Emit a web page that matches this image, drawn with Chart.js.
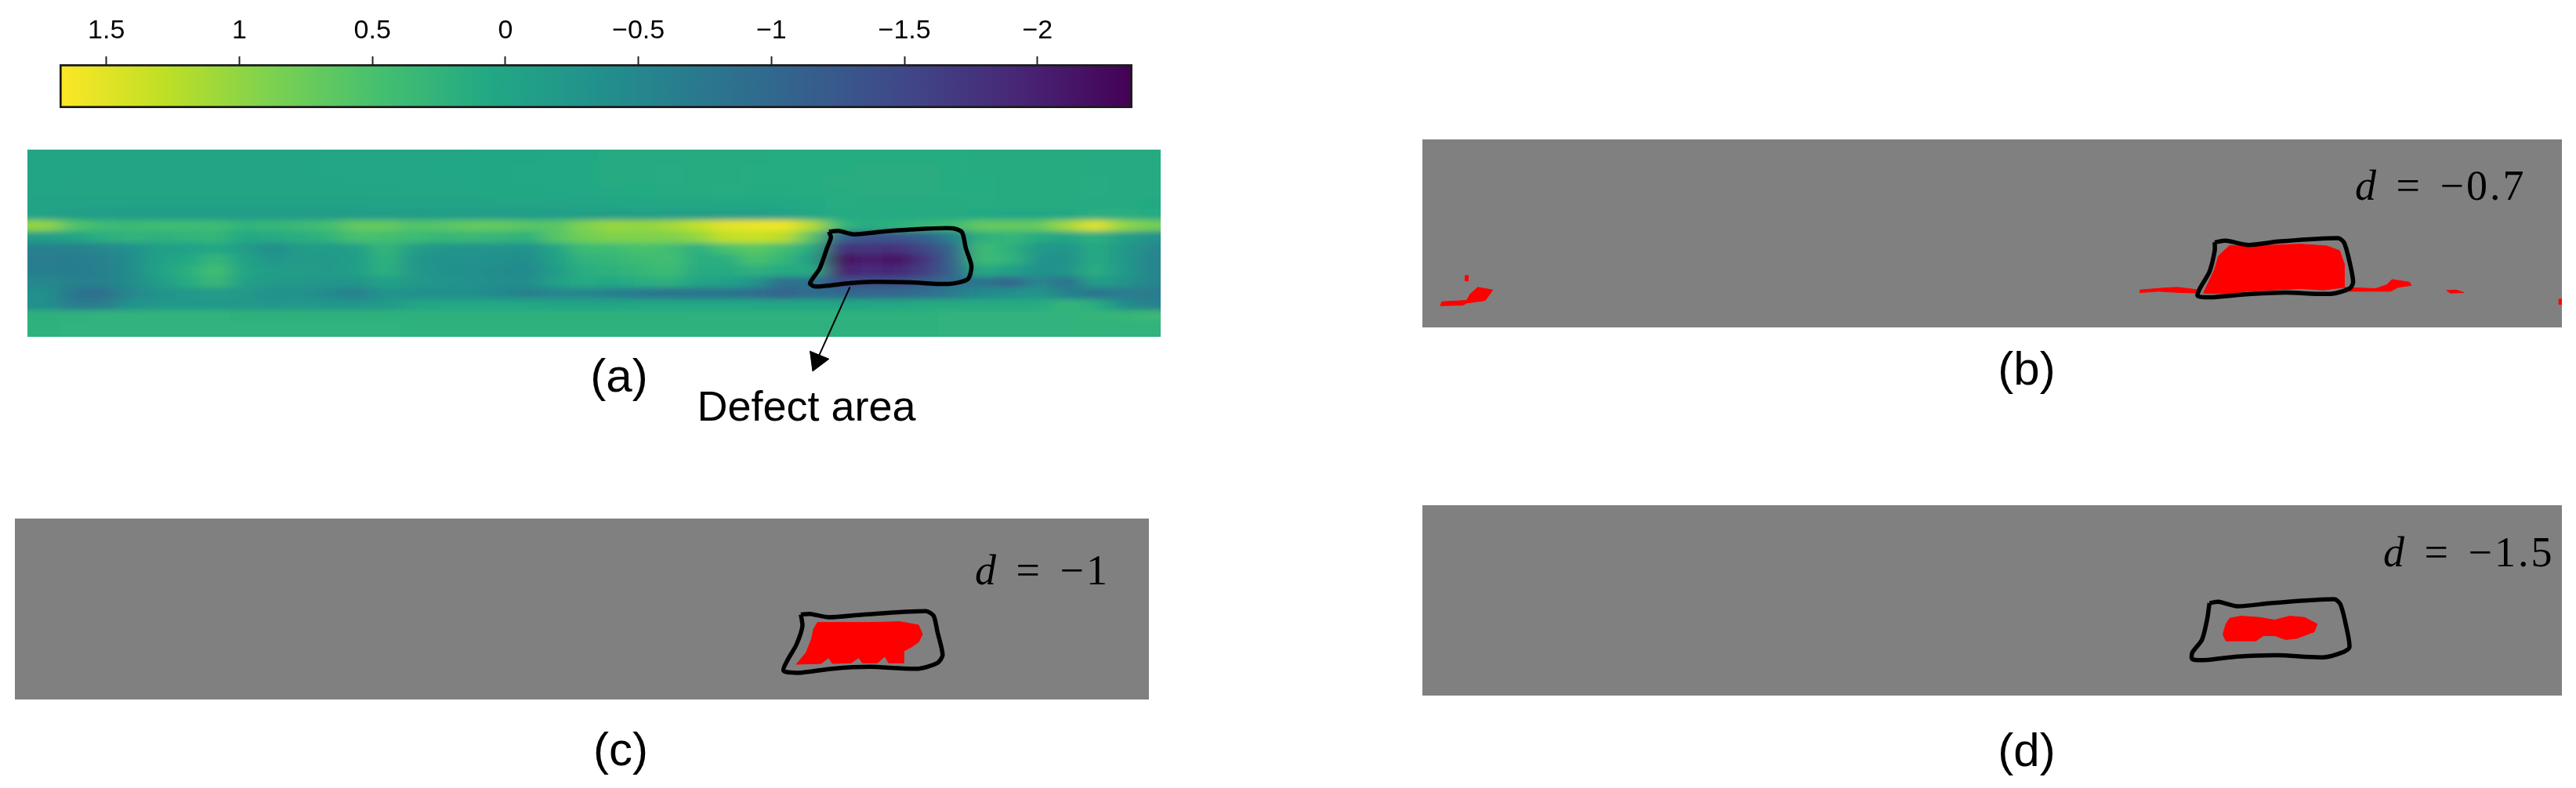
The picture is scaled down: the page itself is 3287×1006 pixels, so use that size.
<!DOCTYPE html>
<html>
<head>
<meta charset="utf-8">
<title>Defect area thresholds</title>
<script src="https://cdn.jsdelivr.net/npm/chart.js@4/dist/chart.umd.js"></script>
<style>
    html, body { margin: 0; background: #ffffff; }
    #page { position: relative; width: 3287px; height: 1006px; overflow: hidden; }
    #page canvas { position: absolute; display: block; }
    #heatWrap { position: absolute; left: 35px; top: 191px; width: 1446px; height: 239px; overflow: hidden; background: #22a585; }
    #heat { left: -36px; top: -15px; filter: url(#soften); }
    .caption { position: absolute; font: 60px "Liberation Sans", sans-serif; color: #000; transform: translate(-50%, -50%); line-height: 1; }
    .formula { position: absolute; font: 54px "Liberation Serif", serif; color: #000; letter-spacing: 3px; word-spacing: 6px; line-height: 1; white-space: nowrap; }
</style>
</head>
<body>
<svg width="0" height="0" style="position:absolute">
    <filter id="soften" x="0" y="0" width="100%" height="100%"><feGaussianBlur stdDeviation="14 3.5"/></filter>
</svg>
<div id="page">
    <canvas id="colorbar" width="1520" height="145" style="left:0;top:0"></canvas>
    <div id="heatWrap"><canvas id="heat" width="1531" height="269"></canvas></div>
    <canvas id="panelA" width="1446" height="289" style="left:35px;top:191px"></canvas>
    <canvas id="panelB" width="1454" height="240" style="left:1815px;top:178px;background:#808080"></canvas>
    <canvas id="panelC" width="1447" height="231" style="left:19px;top:662px;background:#808080"></canvas>
    <canvas id="panelD" width="1454" height="243" style="left:1815px;top:645px;background:#808080"></canvas>
    <div class="caption" style="left:790px;top:480px">(a)</div>
    <div class="caption" style="left:1029px;top:518px;font-size:54px">Defect area</div>
    <div class="caption" style="left:2586px;top:471px">(b)</div>
    <div class="caption" style="left:792px;top:957px">(c)</div>
    <div class="caption" style="left:2586px;top:958px">(d)</div>
    <div class="formula" style="left:3005px;top:210px"><i>d</i> = −0.7</div>
    <div class="formula" style="left:1244px;top:701px"><i>d</i> = −1</div>
    <div class="formula" style="left:3041px;top:678px"><i>d</i> = −1.5</div>
</div>
<script>
// colour bar
const barMin = -2.357;
const barMax = 1.676;
const tickValues = [1.5, 1, 0.5, 0, -0.5, -1, -1.5, -2];
const tickLabels = ['1.5', '1', '0.5', '0', '−0.5', '−1', '−1.5', '−2'];
const viridis = ['#440154', '#482475', '#414487', '#355f8d', '#2a788e', '#21918c', '#22a884', '#44bf70', '#7ad151', '#bddf26', '#fde725'];

// surface of panel (a), one list per row from top to bottom, 40 columns
const row00 = [0,0,0,0,0,0,0,0,0,0,.02,.02,.02,.03,.03,.03,.05,.05,.07,.07,.1,.1,.1,.12,.12,.12,.13,.13,.13,.13,.13,.13,.13,.12,.12,.12,.12,.1,.1,.1];
const row01 = [.01,.01,0,0,0,0,0,0,0,0,.02,.02,.03,.03,.04,.04,.05,.06,.07,.08,.1,.1,.11,.12,.12,.13,.13,.13,.13,.14,.14,.14,.13,.12,.12,.12,.12,.1,.1,.1];
const row02 = [.01,0,0,0,0,0,0,0,0,0,.01,.02,.02,.03,.03,.04,.05,.06,.07,.08,.1,.1,.11,.12,.12,.13,.13,.13,.14,.14,.14,.14,.13,.13,.12,.12,.12,.11,.1,.1];
const row03 = [0,0,0,-.01,-.01,-.01,-.01,-.01,-.01,-.01,0,0,.01,.02,.02,.03,.04,.05,.06,.07,.08,.09,.1,.1,.11,.12,.12,.13,.13,.14,.14,.14,.13,.13,.12,.12,.12,.11,.1,.1];
const row04 = [-.03,-.03,-.04,-.05,-.05,-.05,-.05,-.05,-.05,-.05,-.04,-.04,-.03,-.03,-.02,-.02,-.01,0,.01,.02,.03,.04,.05,.05,.06,.06,.07,.09,.11,.12,.12,.12,.12,.11,.1,.1,.1,.1,.1,.08];
const row05 = [-.05,-.1,-.12,-.15,-.15,-.15,-.15,-.15,-.15,-.15,-.15,-.15,-.15,-.15,-.12,-.12,-.12,-.12,-.12,-.1,-.1,-.1,-.1,-.1,-.1,-.1,-.05,.05,.1,.1,.1,.1,.1,.08,.05,.05,.05,.15,.15,.1];
const row06 = [1,.55,.4,.35,.4,.4,.4,.25,.3,.35,.45,.7,.7,.55,.6,.7,.7,.6,.6,.9,1.05,1,1.1,1.3,1.5,1.55,1.6,1.2,.3,.1,.2,.3,.4,.7,.7,.7,1.1,1.5,1,.8];
const row07 = [-.1,0,.15,.25,.2,.25,.3,.05,.1,.15,.25,.5,.45,.4,.3,.35,.3,.2,.6,.8,.9,.9,.9,1,1.3,1.35,1.25,.6,-1.1,-1.3,-1.3,-1.1,-.6,.2,.3,.1,0,.2,-.1,-.3];
const row08 = [-.6,-.6,-.5,-.35,-.1,-.07,.05,-.15,-.4,-.15,-.18,-.07,.3,-.1,-.25,-.28,-.28,-.32,0,.4,.4,.5,.45,.15,.5,.65,.45,.1,-1.8,-1.75,-1.8,-1.5,-1,.4,.2,-.2,-.28,.1,-.2,-.5];
const row09 = [-.7,-.67,-.6,-.42,-.07,.05,.3,-.04,-.28,-.18,-.2,-.14,.25,-.25,-.32,-.32,-.35,-.4,-.07,.25,.3,.4,.45,.15,.15,.5,.3,-.1,-2.25,-2,-2.2,-1.75,-1.1,.4,.25,-.28,-.35,.1,-.2,-.55];
const row10 = [-.63,-.67,-.63,-.42,-.04,.15,.45,0,-.14,-.14,-.2,-.07,.2,-.2,-.32,-.35,-.4,-.45,-.14,.15,.2,.3,.4,.1,.1,.2,.1,.1,-2,-1.85,-1.9,-1.65,-1.1,.1,-.07,-.35,-.28,.15,-.2,-.55];
const row11 = [-.5,-.6,-.63,-.42,-.14,.1,.35,-.07,-.2,-.2,-.25,-.28,-.04,-.2,-.28,-.32,-.4,-.42,-.07,.1,.05,.15,.2,0,-.07,-.28,-.9,-.8,-1.4,-1.4,-1.4,-1.2,-.9,-.8,-1.1,-.5,-.9,-.1,-.28,-.55];
const row12 = [-.35,-.8,-.9,-.5,-.3,-.22,-.15,-.22,-.3,-.3,-.45,-.6,-.28,-.35,-.38,-.38,-.45,-.6,-.5,-.5,-.6,-.75,-.8,-.8,-.8,-.9,-1.1,-.9,-1,-1,-1,-.9,-.7,-.45,-.35,-.25,-.6,-.8,-.7,-.7];
const row13 = [-.35,-.7,-.7,-.3,-.22,-.22,-.22,-.22,-.25,-.22,-.25,-.25,-.2,0,.05,.05,.05,.05,0,0,0,.05,.05,.05,.05,.05,0,.05,0,.05,.05,.1,.1,.1,.1,.1,.3,.15,-.4,-.6];
const row14 = [.2,.22,.24,.24,.24,.24,.24,.22,.22,.22,.22,.22,.22,.2,.2,.2,.2,.2,.2,.2,.2,.2,.2,.22,.22,.22,.22,.22,.22,.22,.22,.22,.24,.24,.24,.24,.24,.28,.3,.35];
const row15 = [.22,.24,.24,.24,.24,.24,.24,.24,.24,.24,.24,.24,.24,.22,.22,.22,.22,.22,.22,.22,.22,.22,.22,.22,.22,.22,.22,.22,.22,.22,.22,.22,.24,.24,.24,.24,.24,.24,.24,.24];
const surface = [row00, row01, row02, row03, row04, row05, row06, row07, row08, row09, row10, row11, row12, row13, row14, row15];

// defect outline and arrow in panel (a)
const outlineAX = [635, 660, 700, 760, 850, 960, 985, 995, 1010, 1000, 950, 850, 750, 690, 600, 585, 610, 630, 640, 635];
const outlineAY = [378, 375, 388, 380, 370, 365, 380, 440, 510, 560, 578, 572, 570, 575, 588, 575, 520, 440, 400, 378];
const arrowX = [690, 600];
const arrowY = [590, 880];
const arrowHeadX = [585, 635, 592, 585];
const arrowHeadY = [835, 865, 912, 835];

// panel (b)
const outlineBX = [1085, 1100, 1130, 1170, 1250, 1258, 1265, 1270, 1265, 1240, 1180, 1120, 1080, 1062, 1065, 1078, 1085, 1085];
const outlineBY = [418, 412, 428, 415, 402, 420, 490, 570, 595, 615, 610, 618, 628, 622, 595, 530, 450, 418];
const blobMainX = [1105, 1130, 1200, 1235, 1252, 1258, 1258, 1230, 1200, 1130, 1100, 1070, 1085, 1090, 1105];
const blobMainY = [430, 432, 425, 432, 450, 500, 590, 600, 595, 605, 615, 612, 520, 470, 430];
const blobLeftX = [50, 52, 85, 90, 100, 120, 110, 85, 80, 50];
const blobLeftY = [660, 645, 640, 615, 590, 600, 640, 650, 658, 660];
const blobStripX = [985, 1020, 1035, 1065, 1065, 1040, 1010, 985, 985];
const blobStripY = [600, 592, 590, 600, 612, 610, 605, 610, 600];
const blobRightX = [1258, 1300, 1315, 1322, 1345, 1348, 1330, 1320, 1258, 1258];
const blobRightY = [590, 595, 580, 560, 570, 582, 590, 605, 605, 590];
const blobDotX = [1395, 1408, 1418, 1400, 1395];
const blobDotY = [602, 600, 610, 612, 602];
const blobEdgeX = [1545, 1549, 1549, 1545, 1545];
const blobEdgeY = [635, 635, 655, 655, 635];
const blobTickX = [83, 87, 87, 83, 83];
const blobTickY = [545, 545, 565, 565, 545];

// panel (c)
const outlineCX = [1068, 1080, 1105, 1150, 1235, 1245, 1250, 1257, 1250, 1225, 1160, 1110, 1065, 1045, 1050, 1062, 1070, 1068];
const outlineCY = [405, 402, 415, 405, 392, 410, 470, 560, 590, 612, 605, 612, 628, 620, 580, 520, 450, 405];
const blobCX = [1090, 1130, 1160, 1200, 1225, 1230, 1225, 1215, 1205, 1205, 1185, 1180, 1170, 1150, 1145, 1135, 1110, 1105, 1095, 1062, 1075, 1082, 1085, 1090];
const blobCY = [435, 435, 435, 432, 445, 480, 510, 530, 545, 590, 590, 565, 590, 590, 570, 590, 592, 570, 592, 595, 550, 500, 460, 435];

// panel (d)
const outlineDX = [1078, 1090, 1115, 1160, 1245, 1253, 1260, 1265, 1255, 1230, 1170, 1115, 1075, 1055, 1055, 1068, 1075, 1078];
const outlineDY = [420, 415, 432, 420, 405, 425, 500, 590, 610, 628, 620, 625, 638, 635, 610, 560, 480, 420];
const blobDX = [1105, 1120, 1145, 1165, 1185, 1205, 1222, 1218, 1195, 1180, 1165, 1150, 1140, 1100, 1096, 1100, 1105];
const blobDY = [478, 470, 475, 485, 470, 475, 500, 530, 555, 560, 545, 545, 565, 565, 540, 500, 478];

const toPoints = (xs, ys) => xs.map((x, i) => ({ x: x, y: ys[i] }));

const valueToColor = (v) => {
    const t = Math.min(1, Math.max(0, (v - barMin) / (barMax - barMin))) * (viridis.length - 1);
    const i = Math.min(viridis.length - 2, Math.floor(t));
    const a = parseInt(viridis[i].slice(1), 16);
    const b = parseInt(viridis[i + 1].slice(1), 16);
    const mix = (shift) => {
        const from = (a >> shift) & 255;
        const to = (b >> shift) & 255;
        return Math.round(from + (to - from) * (t - i));
    };
    return `rgb(${mix(16)}, ${mix(8)}, ${mix(0)})`;
};

const baseOptions = (xMin, xMax, yTop, yBottom) => ({
    responsive: false,
    animation: false,
    events: [],
    plugins: { legend: { display: false }, tooltip: { enabled: false } },
    layout: { padding: 0 },
    scales: {
        x: { type: 'linear', display: false, min: xMin, max: xMax },
        y: { type: 'linear', display: false, reverse: true, min: yTop, max: yBottom }
    }
});

const outlineSet = (xs, ys, width) => ({
    data: toPoints(xs, ys),
    showLine: true,
    borderColor: '#000000',
    borderWidth: width,
    borderJoinStyle: 'round',
    tension: 0.25,
    pointRadius: 0,
    fill: false
});

const blobSet = (xs, ys) => ({
    data: toPoints(xs, ys),
    showLine: true,
    borderColor: '#ff0000',
    backgroundColor: '#ff0000',
    borderWidth: 1,
    pointRadius: 0,
    fill: 'shape'
});

// colour bar, one floating bar painted with the colour map
new Chart(document.getElementById('colorbar'), {
    type: 'bar',
    data: {
        labels: ['scale'],
        datasets: [{
            data: [[barMin, barMax]],
            borderColor: '#1c1c1c',
            borderWidth: 3,
            borderSkipped: false,
            categoryPercentage: 1,
            barPercentage: 1,
            backgroundColor: (ctx) => {
                const { chart } = ctx;
                const scale = chart.scales.x;
                if (!chart.chartArea) return viridis[5];
                const grad = chart.ctx.createLinearGradient(scale.getPixelForValue(barMin), 0, scale.getPixelForValue(barMax), 0);
                viridis.forEach((c, i) => grad.addColorStop(i / (viridis.length - 1), c));
                return grad;
            }
        }]
    },
    options: {
        indexAxis: 'y',
        responsive: false,
        animation: false,
        events: [],
        plugins: { legend: { display: false }, tooltip: { enabled: false } },
        layout: { padding: { left: 76, right: 75, bottom: 7 } },
        scales: {
            x: {
                type: 'linear',
                position: 'top',
                reverse: true,
                min: barMin,
                max: barMax,
                afterBuildTicks: (scale) => { scale.ticks = tickValues.map(v => ({ value: v })); },
                afterFit: (scale) => { scale.height = 82; },
                border: { display: false },
                grid: { drawOnChartArea: false, tickLength: 10, tickColor: '#222222', tickWidth: 2 },
                ticks: {
                    autoSkip: false,
                    maxRotation: 0,
                    padding: 12,
                    color: '#000000',
                    font: { family: 'Liberation Sans', size: 34 },
                    callback: (v) => tickLabels[tickValues.indexOf(v)]
                }
            },
            y: { display: false }
        }
    }
});

// surface of panel (a), one square per cell, the svg filter softens them
const cellCache = {};
const cellImage = (ctx) => {
    const { chart } = ctx;
    const color = valueToColor(ctx.raw.v);
    if (!cellCache[color]) {
        const w = Math.ceil(chart.width / (row00.length + 2)) + 1;
        const h = Math.ceil(chart.height / (surface.length + 2)) + 1;
        const cell = document.createElement('canvas');
        cell.width = w;
        cell.height = h;
        const g = cell.getContext('2d');
        g.fillStyle = color;
        g.fillRect(0, 0, w, h);
        cellCache[color] = cell;
    }
    return cellCache[color];
};

const clampIndex = (i, n) => Math.min(n - 1, Math.max(0, i));
const cells = [];
for (let r = -1; r <= surface.length; r++) {
    for (let c = -1; c <= row00.length; c++) {
        cells.push({ x: c + 0.5, y: r + 0.5, v: surface[clampIndex(r, surface.length)][clampIndex(c, row00.length)] });
    }
}

new Chart(document.getElementById('heat'), {
    type: 'scatter',
    data: { datasets: [{ data: cells, pointRadius: 1, pointStyle: cellImage }] },
    options: baseOptions(-1, row00.length + 1, -1, surface.length + 1)
});

new Chart(document.getElementById('panelA'), {
    type: 'scatter',
    data: {
        datasets: [
            outlineSet(outlineAX, outlineAY, 5.5),
            { ...outlineSet(arrowX, arrowY, 2), tension: 0 },
            { ...blobSet(arrowHeadX, arrowHeadY), borderColor: '#000000', backgroundColor: '#000000' }
        ]
    },
    options: baseOptions(-1475, 1508, 64, 930)
});

new Chart(document.getElementById('panelB'), {
    type: 'scatter',
    data: {
        datasets: [
            outlineSet(outlineBX, outlineBY, 5.5),
            blobSet(blobMainX, blobMainY),
            blobSet(blobLeftX, blobLeftY),
            blobSet(blobStripX, blobStripY),
            blobSet(blobRightX, blobRightY),
            blobSet(blobDotX, blobDotY),
            blobSet(blobEdgeX, blobEdgeY),
            blobSet(blobTickX, blobTickY)
        ]
    },
    options: baseOptions(26, 1549, 25, 743)
});

new Chart(document.getElementById('panelC'), {
    type: 'scatter',
    data: { datasets: [outlineSet(outlineCX, outlineCY, 5.5), blobSet(blobCX, blobCY)] },
    options: baseOptions(20, 1532, 37, 730)
});

new Chart(document.getElementById('panelD'), {
    type: 'scatter',
    data: { datasets: [outlineSet(outlineDX, outlineDY, 5.5), blobSet(blobDX, blobDY)] },
    options: baseOptions(26, 1549, 44, 775)
});
</script>
</body>
</html>
